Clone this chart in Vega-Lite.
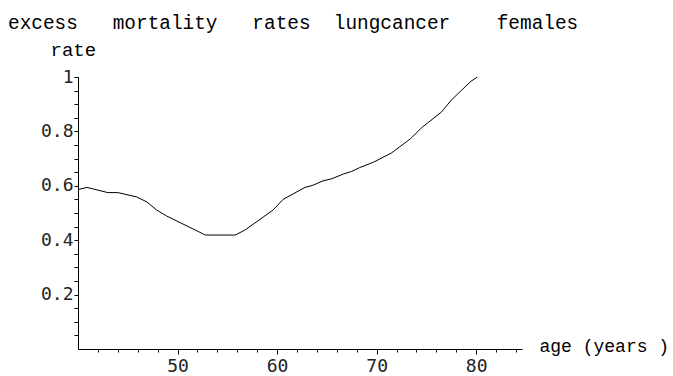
{
  "$schema": "https://vega.github.io/schema/vega-lite/v6.json",
  "width": 444,
  "height": 272,
  "autosize": "none",
  "padding": {"left": 78, "top": 77, "right": 151, "bottom": 27},
  "background": "white",
  "title": {
    "text": "excess\u00a0\u00a0\u00a0mortality\u00a0\u00a0\u00a0rates\u00a0\u00a0lungcancer\u00a0\u00a0\u00a0\u00a0females",
    "anchor": "start",
    "frame": "group",
    "dx": -70,
    "offset": 7,
    "font": "Liberation Mono",
    "fontSize": 19.4,
    "fontWeight": "normal",
    "color": "black"
  },
  "data": {
    "values": [
      {"age": 40, "rate": 0.586},
      {"age": 40.9, "rate": 0.594},
      {"age": 43, "rate": 0.575},
      {"age": 44, "rate": 0.575},
      {"age": 45.9, "rate": 0.559},
      {"age": 46.9, "rate": 0.541},
      {"age": 47.9, "rate": 0.511},
      {"age": 48.9, "rate": 0.489},
      {"age": 52.8, "rate": 0.419},
      {"age": 55.8, "rate": 0.419},
      {"age": 56.8, "rate": 0.438},
      {"age": 59.6, "rate": 0.511},
      {"age": 60.6, "rate": 0.55},
      {"age": 62.8, "rate": 0.594},
      {"age": 63.6, "rate": 0.602},
      {"age": 64.6, "rate": 0.618},
      {"age": 65.5, "rate": 0.626},
      {"age": 66.7, "rate": 0.644},
      {"age": 67.5, "rate": 0.653},
      {"age": 68.3, "rate": 0.667},
      {"age": 69.7, "rate": 0.687},
      {"age": 71.5, "rate": 0.721},
      {"age": 73.4, "rate": 0.773},
      {"age": 74.5, "rate": 0.813},
      {"age": 76.5, "rate": 0.871},
      {"age": 77.5, "rate": 0.915},
      {"age": 79.4, "rate": 0.982},
      {"age": 80.1, "rate": 1.0}
    ]
  },
  "mark": {"type": "line", "color": "black", "strokeWidth": 1},
  "encoding": {
    "x": {
      "field": "age",
      "type": "quantitative",
      "scale": {"domain": [40, 84.6], "nice": false, "zero": false},
      "axis": {
        "orient": "bottom",
        "values": [42, 44, 46, 48, 50, 52, 54, 56, 58, 60, 62, 64, 66, 68, 70, 72, 74, 76, 78, 80, 82, 84],
        "labelExpr": "datum.value % 10 === 0 ? datum.label : ''",
        "tickSize": {"condition": {"test": "datum.value % 10 === 0", "value": 5}, "value": 3},
        "labelPadding": 3,
        "labelFont": "DejaVu Sans Mono",
        "labelFontSize": 18,
        "labelColor": "#222",
        "labelFlush": false,
        "title": "age (years )",
        "titleFont": "Liberation Mono",
        "titleFontSize": 18,
        "titleFontWeight": "normal",
        "titleColor": "black",
        "titleX": 461,
        "titleY": -3,
        "titleAlign": "left",
        "titleBaseline": "middle",
        "titleAnchor": null
      }
    },
    "y": {
      "field": "rate",
      "type": "quantitative",
      "scale": {"domain": [0, 1], "nice": false},
      "axis": {
        "orient": "left",
        "values": [0.05, 0.1, 0.15, 0.2, 0.25, 0.3, 0.35, 0.4, 0.45, 0.5, 0.55, 0.6, 0.65, 0.7, 0.75, 0.8, 0.85, 0.9, 0.95, 1],
        "format": "~g",
        "labelExpr": "abs(datum.value * 5 - round(datum.value * 5)) < 0.000001 ? datum.label : ''",
        "tickSize": 4,
        "labelPadding": 1,
        "labelFont": "DejaVu Sans Mono",
        "labelFontSize": 18,
        "labelColor": "#222",
        "labelFlush": false,
        "title": "rate",
        "titleFont": "Liberation Mono",
        "titleFontSize": 19,
        "titleFontWeight": "normal",
        "titleColor": "black",
        "titleAngle": 0,
        "titleX": -28,
        "titleY": -22,
        "titleAlign": "left",
        "titleBaseline": "alphabetic"
      }
    }
  },
  "config": {
    "view": {"stroke": null},
    "axis": {
      "grid": false,
      "domainColor": "black",
      "domainWidth": 1,
      "tickColor": "black",
      "tickWidth": 1
    }
  }
}
